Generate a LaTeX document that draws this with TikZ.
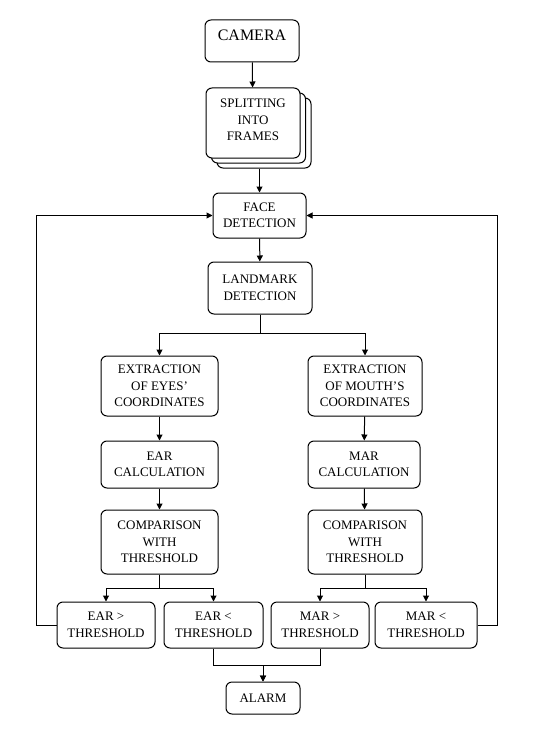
\documentclass[tikz,border=0pt]{standalone}
\usepackage{fontspec}
\setmainfont{Liberation Serif}
\usetikzlibrary{positioning,arrows.meta}

\begin{document}
\begin{tikzpicture}[
    x=1pt, y=-1pt,
    box/.style={rectangle, draw, fill=white, line width=1pt, rounded corners=6pt, align=center,
        inner sep=1pt, font=\fontsize{13}{16.5}\selectfont},
    bigbox/.style={box, font=\fontsize{16}{19}\selectfont},
    arr/.style={draw, line width=1pt, -{Triangle[length=6pt,width=6pt]}},
]
\useasboundingbox (0,0) rectangle (536,749);

% Input
\node[bigbox, minimum width=94pt, minimum height=42pt, text depth=12pt] (camera) at (252,41) {CAMERA};
\node[box, minimum width=94pt, minimum height=70pt] (split3) at (264,133) {};
\node[box, minimum width=94pt, minimum height=70pt] (split2) at (258.5,128) {};
\node[box, minimum width=94pt, minimum height=70pt] (split) at (253,123) {SPLITTING\\INTO\\FRAMES\\[-10pt]};

% Detection
\node[box, minimum width=93pt, minimum height=45pt] (face) at (259.5,215.5) {FACE\\DETECTION};
\node[box, minimum width=104pt, minimum height=52pt] (landmark) at (260,288) {LANDMARK\\DETECTION};

% Eyes branch
\node[box, minimum width=117pt, minimum height=60pt] (eyes) at (159.5,386) {EXTRACTION\\OF EYES'\\COORDINATES};
\node[box, minimum width=117pt, minimum height=47pt] (ear) at (159.5,464.5) {EAR\\CALCULATION};
\node[box, minimum width=117pt, minimum height=64pt] (cmpL) at (159.5,542) {COMPARISON\\WITH\\THRESHOLD};

% Mouth branch
\node[box, minimum width=114pt, minimum height=60pt] (mouth) at (365,386) {EXTRACTION\\OF MOUTH'S\\COORDINATES};
\node[box, minimum width=112pt, minimum height=47pt] (mar) at (364,464.5) {MAR\\CALCULATION};
\node[box, minimum width=114pt, minimum height=64pt] (cmpR) at (365,542) {COMPARISON\\WITH\\THRESHOLD};

% Results
\node[box, minimum width=98pt, minimum height=46pt] (eargt) at (106,625) {EAR >\\THRESHOLD};
\node[box, minimum width=99pt, minimum height=46pt] (earlt) at (213.5,625) {EAR <\\THRESHOLD};
\node[box, minimum width=98pt, minimum height=46pt] (margt) at (320,625) {MAR >\\THRESHOLD};
\node[box, minimum width=102pt, minimum height=46pt] (marlt) at (426,625) {MAR <\\THRESHOLD};
\node[box, minimum width=74pt, minimum height=32pt] (alarm) at (263,698) {ALARM};

% Connectors
\draw[arr] (camera) -- (split);
\draw[arr] (face.north |- split3.south) -- (face.north);
\draw[arr] (face) -- (landmark);
\draw[arr] (landmark.south) -- ++(0,19) -| (eyes.north);
\draw[arr] (landmark.south) -- ++(0,19) -| (mouth.north);
\draw[arr] (eyes) -- (ear);
\draw[arr] (ear) -- (cmpL);
\draw[arr] (mouth) -- (mar);
\draw[arr] (mar) -- (cmpR);
\draw[arr] (cmpL.south) -- ++(0,14) -| (eargt.north);
\draw[arr] (cmpL.south) -- ++(0,14) -| (earlt.north);
\draw[arr] (cmpR.south) -- ++(0,14) -| (margt.north);
\draw[arr] (cmpR.south) -- ++(0,14) -| (marlt.north);
\draw[arr] (earlt.south) -- ++(0,17) -| (alarm.north);
\draw[arr] (margt.south) -- ++(0,17) -| (alarm.north);

% Feedback loops
\draw[arr] (eargt.west) -- ++(-20,0) |- (face.west);
\draw[arr] (marlt.east) -- ++(20,0) |- (face.east);

\end{tikzpicture}
\end{document}
